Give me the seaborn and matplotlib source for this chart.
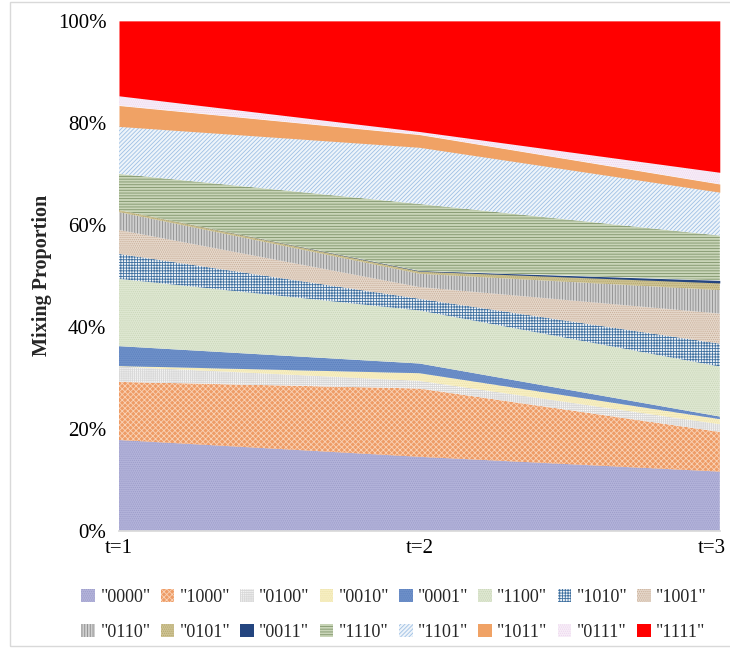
import numpy as np
import pandas as pd
import matplotlib
matplotlib.use("Agg")
import matplotlib.pyplot as plt
import matplotlib.transforms as mtransforms
import seaborn as sns
from matplotlib.ticker import PercentFormatter
from matplotlib.patches import Patch, Rectangle

# data (percent of mixture at each time step)
times = ["t=1", "t=2", "t=3"]
states = ['"0000"', '"1000"', '"0100"', '"0010"', '"0001"', '"1100"', '"1010"', '"1001"',
          '"0110"', '"0101"', '"0011"', '"1110"', '"1101"', '"1011"', '"0111"', '"1111"']
s0000 = [17.8, 14.5, 11.6]
s1000 = [11.4, 13.4, 7.8]
s0100 = [3.0, 1.5, 1.5]
s0010 = [0.1, 1.5, 1.0]
s0001 = [3.9, 1.9, 0.5]
s1100 = [13.2, 10.4, 9.8]
s1010 = [4.9, 2.3, 4.5]
s1001 = [4.7, 2.3, 5.9]
s0110 = [3.5, 2.6, 4.6]
s0101 = [0.4, 0.5, 1.4]
s0011 = [0.0, 0.1, 0.5]
s1110 = [7.1, 13.1, 8.8]
s1101 = [9.3, 11.1, 8.5]
s1011 = [4.1, 2.5, 1.6]
s0111 = [1.9, 0.6, 2.3]
s1111 = [14.7, 21.7, 29.7]

df = pd.DataFrame(
    [s0000, s1000, s0100, s0010, s0001, s1100, s1010, s1001,
     s0110, s0101, s0011, s1110, s1101, s1011, s0111, s1111],
    index=states, columns=times,
)

# Excel-like pattern fills: (face, hatch colour, hatch)
styles = {
    '"0000"': ("#b3b3da", "#9c9cc9", "........"),
    '"1000"': ("#ee9c66", "#f9d2b6", "xxxxxx"),
    '"0100"': ("#fafafa", "#d9d9d9", "++++++++"),
    '"0010"': ("#f8f0c4", "#ebe0a8", "........"),
    '"0001"': ("#6f91c9", "#5a7fbe", "........"),
    '"1100"': ("#dfe8d2", "#c9d6b8", "........"),
    '"1010"': ("#f2f5f8", "#3f70a0", "++++++"),
    '"1001"': ("#e6d8cb", "#c8ae98", "........"),
    '"0110"': ("#cfcfcf", "#8c8c8c", "||||||"),
    '"0101"': ("#cfc494", "#b3a66c", "........"),
    '"0011"': ("#24457f", "#24457f", None),
    '"1110"': ("#c9d5b8", "#7f946a", "------"),
    '"1101"': ("#eef4fa", "#9ec0e4", "////////"),
    '"1011"': ("#f0a265", "#e89556", None),
    '"0111"': ("#f8eef8", "#ecd6ee", "........"),
    '"1111"': ("#ff0000", "#ff0000", None),
}

sns.set_theme(style="white")
plt.rcParams["font.family"] = ["Liberation Serif", "DejaVu Serif"]
plt.rcParams["hatch.linewidth"] = 0.6

fig, ax = plt.subplots(figsize=(7.3, 6.52), dpi=100)
fig.subplots_adjust(left=0.163, right=0.986, top=0.968, bottom=0.186)

x = np.arange(len(times))
polys = ax.stackplot(x, df.values, colors=[styles[s][0] for s in states], linewidth=0)
for poly, s in zip(polys, states):
    face, hc, hatch = styles[s]
    poly.set_edgecolor(hc)
    poly.set_linewidth(0)
    if hatch:
        poly.set_hatch(hatch)

ax.set_xlim(0, len(times) - 1)
ax.set_ylim(0, 100)
ax.set_xticks(x)
ax.set_xticklabels(times)
ax.set_yticks(np.arange(0, 101, 20))
ax.yaxis.set_major_formatter(PercentFormatter(decimals=0))
ax.tick_params(axis="both", length=0, labelsize=15, colors="black")
ax.tick_params(axis="y", pad=9)
ax.tick_params(axis="x", pad=6)
ax.set_ylabel("Mixing Proportion", fontsize=14.5, fontweight="bold", labelpad=4)
sns.despine(ax=ax, left=True, top=True, right=True)
ax.spines["bottom"].set_color("#d9d9d9")

# last category label sits on the right edge; nudge it inside the figure
last = ax.get_xticklabels()[-1]
last.set_transform(last.get_transform() + mtransforms.ScaledTranslation(-6 / 72, 0, fig.dpi_scale_trans))

# legend in row-major order like Excel
handles = [Patch(facecolor=styles[s][0], edgecolor=styles[s][1], hatch=styles[s][2], linewidth=0)
           for s in states]
order = [i + r * 8 for i in range(8) for r in range(2)]
fig.legend([handles[i] for i in order], [states[i] for i in order],
           loc="center", bbox_to_anchor=(0.54, 1 - 615 / 652), ncol=8, frameon=False,
           fontsize=13, handlelength=0.75, handleheight=0.75, handletextpad=0.3,
           columnspacing=0.55, labelspacing=1.0)

fig.patches.append(Rectangle((10 / 730, 6 / 652), 1.0, 1 - 8 / 652, transform=fig.transFigure,
                             fill=False, edgecolor="#d9d9d9", linewidth=1, clip_on=False))

plt.savefig("out.png", dpi=100)
